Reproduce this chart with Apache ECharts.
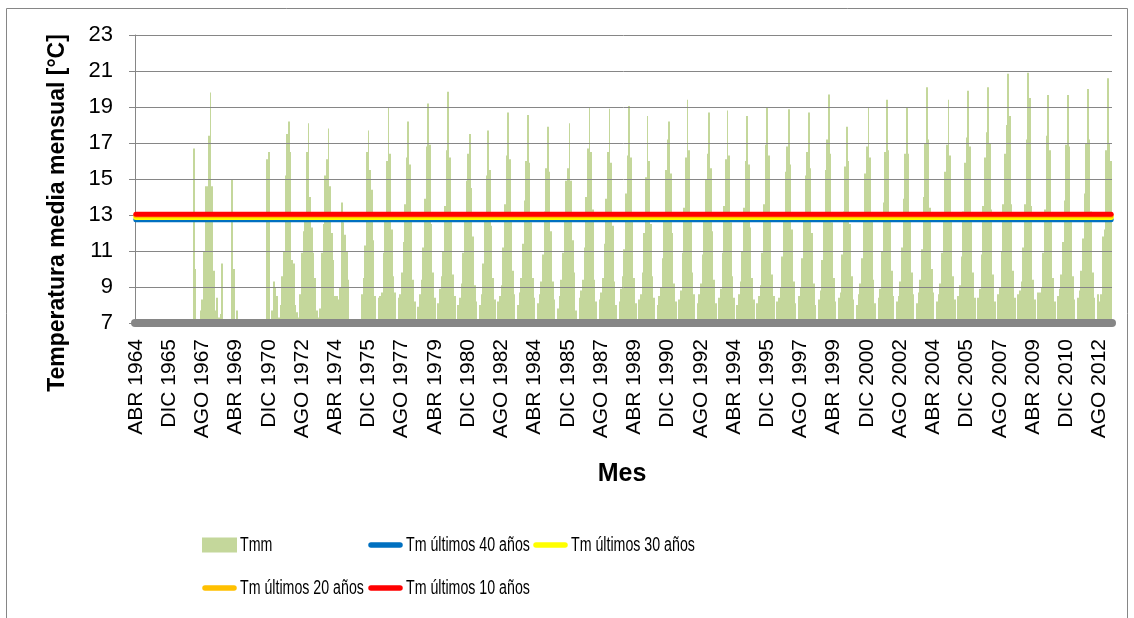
<!DOCTYPE html>
<html>
<head>
<meta charset="utf-8">
<script src="https://cdn.jsdelivr.net/npm/echarts/dist/echarts.min.js"></script>
<style>
  html, body { margin: 0; padding: 0; background: #ffffff; }
  #chart { width: 1134px; height: 618px; }
</style>
</head>
<body>
<div id="chart"></div>
<script>
// ---------- DATA ----------
const MONTHS = ['ENE','FEB','MAR','ABR','MAY','JUN','JUL','AGO','SEP','OCT','NOV','DIC'];
const START_YEAR = 1964;
const START_MONTH = 3; // ABR

// Monthly mean temperature (°C), one array per calendar year (1964 starts in ABR, 2013 ends in MAR)
const y1964 = [null,null,null,null,null,null,null,null,null];
const y1965 = [null,null,null,null,null,null,null,null,null,null,null,null];
const y1966 = [null,null,null,null,null,null,null,null,null,null,null,null];
const y1967 = [null,null,16.7,10.0,null,null,7.7,8.3,11.0,14.6,14.6,17.4];
const y1968 = [19.8,14.6,9.9,7.7,8.4,7.3,7.5,10.3,null,null,null,null];
const y1969 = [null,15.0,10.0,null,7.7,null,null,null,null,null,null,null];
const y1970 = [null,null,null,null,null,null,null,null,null,null,16.1,16.5];
const y1971 = [null,7.7,9.3,9.0,8.5,7.3,8.0,9.6,11.0,15.2,17.5,18.2];
const y1972 = [16.5,10.5,10.3,8.0,7.6,7.3,8.6,10.9,12.1,13.0,16.5,18.1];
const y1973 = [14.0,12.3,10.9,9.5,7.7,7.3,7.8,10.9,12.5,15.2,16.1,17.8];
const y1974 = [14.6,12.0,10.5,8.5,8.5,8.3,9.0,13.7,12.6,11.9,11.0,9.4];
const y1975 = [null,null,null,null,null,null,null,8.6,9.5,11.3,16.5,17.7];
const y1976 = [15.5,14.4,11.6,8.5,6.5,8.4,8.5,8.7,10.9,12.8,16.0,19.0];
const y1977 = [16.4,12.2,9.6,8.7,6.5,8.4,8.6,9.8,11.5,13.6,16.2,18.2];
const y1978 = [15.8,12.8,9.4,8.2,6.6,7.9,8.6,9.4,11.2,13.9,16.8,19.2];
const y1979 = [16.9,12.5,9.8,8.4,6.4,8.1,8.9,9.6,11.0,13.5,16.6,19.85];
const y1980 = [16.2,12.9,9.7,8.5,6.5,8.0,8.4,9.2,10.9,12.8,14.9,16.4];
const y1981 = [17.5,14.5,11.8,9.1,8.2,6.6,8.0,8.6,10.3,12.7,15.2,17.7];
const y1982 = [15.5,12.4,9.5,8.3,6.5,8.2,8.5,9.1,11.2,13.6,16.3,18.7];
const y1983 = [16.1,12.8,9.9,8.6,6.4,8.0,8.7,9.5,11.4,13.8,16.0,18.56];
const y1984 = [15.9,12.6,9.5,8.4,6.5,8.1,8.6,9.3,10.8,13.2,15.6,17.9];
const y1985 = [15.4,12.1,9.3,8.3,6.6,7.8,8.5,9.4,10.9,13.0,14.9,15.6];
const y1986 = [18.1,14.9,11.6,9.8,7.7,6.5,8.4,8.8,9.4,11.2,14.0,16.7];
const y1987 = [19.0,16.5,13.3,9.4,8.2,6.5,8.3,8.7,9.5,11.4,13.9,16.5];
const y1988 = [18.9,15.9,12.4,9.3,8.0,6.6,8.2,8.9,9.6,11.1,14.2,16.3];
const y1989 = [19.06,16.2,12.8,9.5,8.1,6.4,8.3,8.6,9.8,12.0,15.1,18.5];
const y1990 = [16.0,12.5,9.6,8.4,6.5,8.0,8.5,9.0,10.6,13.0,15.5,17.2];
const y1991 = [18.2,15.3,12.0,9.2,8.2,6.5,8.3,8.8,10.9,13.4,16.2,19.4];
const y1992 = [16.6,12.9,9.8,8.6,6.5,8.1,8.6,9.2,10.8,12.9,15.0,16.4];
const y1993 = [18.7,15.6,12.1,9.4,8.1,6.6,8.4,8.9,10.9,13.5,16.1,18.8];
const y1994 = [16.3,12.6,9.6,8.4,6.5,8.0,8.6,9.3,11.0,13.4,16.0,18.5];
const y1995 = [15.8,12.3,9.5,8.3,6.4,8.1,8.5,9.1,10.9,13.6,16.9,18.98];
const y1996 = [16.3,12.7,9.7,8.5,6.6,8.2,8.4,9.0,10.7,13.0,15.4,16.8];
const y1997 = [18.87,15.8,12.2,9.3,8.1,6.5,8.5,9.0,10.6,12.8,15.2,16.5];
const y1998 = [18.7,15.6,12.0,9.2,8.0,6.5,8.3,8.8,10.5,13.1,15.5,17.2];
const y1999 = [19.7,16.4,12.6,9.5,8.2,6.6,8.4,8.7,10.8,13.2,15.7,17.9];
const y2000 = [16.0,12.5,9.6,8.3,6.5,8.0,8.6,9.2,10.6,12.9,15.3,16.8];
const y2001 = [19.0,16.2,12.7,9.4,8.1,6.5,8.4,8.9,11.0,13.7,16.5,19.4];
const y2002 = [16.6,13.0,9.9,8.5,6.6,8.2,8.5,9.3,11.2,13.9,16.4,19.0];
const y2003 = [16.4,12.8,9.8,8.6,6.5,8.1,8.7,9.4,11.1,14.0,17.0,20.1];
const y2004 = [17.2,13.4,10.0,8.7,6.5,8.2,8.6,9.2,10.9,13.0,15.4,16.9];
const y2005 = [19.4,16.3,12.8,9.6,8.3,6.6,8.5,9.1,10.7,13.2,15.9,17.3];
const y2006 = [19.9,16.8,13.1,9.8,8.4,6.5,8.4,8.9,10.8,13.5,16.2,17.6];
const y2007 = [20.1,17.0,13.3,9.7,8.2,6.4,8.6,9.0,11.0,13.6,16.4,18.0];
const y2008 = [20.85,18.5,13.6,9.9,8.4,6.5,8.6,8.8,9.3,11.2,13.6,17.2];
const y2009 = [20.9,19.5,13.5,9.4,8.3,6.5,8.7,8.7,9.0,10.9,13.3,17.4];
const y2010 = [19.67,16.6,12.9,9.5,8.2,6.6,8.5,8.9,9.7,11.5,13.8,16.9];
const y2011 = [19.67,16.8,13.0,9.6,8.3,6.5,8.4,8.8,9.9,11.7,14.2,17.0];
const y2012 = [20.0,17.2,13.2,9.8,8.4,6.6,8.6,8.2,8.6,11.8,12.2,16.6];
const y2013 = [20.6,17.0,16.0];

// Reference means (°C)
const tm40 = 12.73;
const tm30 = 12.86;
const tm20 = 12.96;
const tm10 = 13.04;

// Axis settings
const Y_MIN = 7, Y_MAX = 23, Y_STEP = 2;
const LABEL_EVERY = 20;

// ---------- BUILD ----------
const yearArrays = [y1964,y1965,y1966,y1967,y1968,y1969,y1970,y1971,y1972,y1973,y1974,y1975,
  y1976,y1977,y1978,y1979,y1980,y1981,y1982,y1983,y1984,y1985,y1986,y1987,y1988,y1989,
  y1990,y1991,y1992,y1993,y1994,y1995,y1996,y1997,y1998,y1999,y2000,y2001,y2002,y2003,
  y2004,y2005,y2006,y2007,y2008,y2009,y2010,y2011,y2012,y2013];
const tmm = [].concat(...yearArrays);
const N = tmm.length;
const categories = tmm.map((_, i) => {
  const k = START_MONTH + i;
  return MONTHS[k % 12] + ' ' + (START_YEAR + Math.floor(k / 12));
});

const GREEN = '#c4d79b';
const GRID = '#868686';
const FONT = "'Liberation Sans', Arial, sans-serif";
const COLORS = { tm40: '#0070c0', tm30: '#ffff00', tm20: '#ffc000', tm10: '#ff0000' };

const NAMES = {
  tmm: 'Tmm',
  tm40: 'Tm últimos 40 años',
  tm30: 'Tm últimos 30 años',
  tm20: 'Tm últimos 20 años',
  tm10: 'Tm últimos 10 años'
};

function meanLine(name, value, color) {
  return {
    name: name, type: 'line', z: 6,
    data: [[0, value], [N - 1, value]],
    symbol: 'none', showSymbol: false,
    lineStyle: { color: color, width: 5, cap: 'round' },
    itemStyle: { color: color },
    silent: true
  };
}

// Column renderer: pixel-snapped columns from the axis floor (Y_MIN) up to the value
function renderColumn(params, api) {
  const v = api.value(1);
  if (v == null || isNaN(v) || v <= Y_MIN) return null;
  const idx = api.value(0);
  const top = api.coord([idx, v]);
  const base = api.coord([idx, Y_MIN]);
  const w = api.size([1, 0])[0];
  const x0 = Math.round(top[0] - w / 2);
  const x1 = Math.round(top[0] + w / 2);
  return {
    type: 'rect',
    shape: { x: x0, y: top[1], width: Math.max(1, x1 - x0), height: base[1] - top[1] },
    style: { fill: GREEN }
  };
}

// Legend drawn as graphic items (Calibri-like condensed text)
function legendItem(name, color, kind, x, y) {
  const icon = kind === 'rect'
    ? { type: 'rect', shape: { x: 0, y: -7.5, width: 35, height: 15 }, style: { fill: color } }
    : { type: 'line', shape: { x1: 3, y1: 0, x2: 32, y2: 0 }, style: { stroke: color, lineWidth: 5.5, lineCap: 'round' } };
  return {
    type: 'group', x: x, y: y, silent: true,
    children: [
      icon,
      { type: 'text', x: 38, y: 0, scaleX: 0.71,
        style: { text: name, font: "20px 'Liberation Sans', Arial, sans-serif", fill: '#000',
                 align: 'left', verticalAlign: 'middle', textAlign: 'left', textVerticalAlign: 'middle' } }
    ]
  };
}

const chart = echarts.init(document.getElementById('chart'), null, { renderer: 'canvas' });
chart.setOption({
  animation: false,
  backgroundColor: '#ffffff',
  grid: { left: 135, right: 22, top: 35, bottom: 295, containLabel: false },
  xAxis: {
    type: 'category', data: categories, boundaryGap: true, z: 4,
    axisLine: { show: true, lineStyle: { color: GRID, width: 8 } },
    axisTick: { show: false },
    axisLabel: { interval: LABEL_EVERY - 1, rotate: 90, fontFamily: FONT, fontSize: 21, color: '#000', margin: 16 },
    splitLine: { show: false }
  },
  yAxis: {
    type: 'value', min: Y_MIN, max: Y_MAX, interval: Y_STEP, z: 3,
    axisLine: { show: true, lineStyle: { color: GRID, width: 1 } },
    axisTick: { show: true, length: 6, lineStyle: { color: GRID } },
    axisLabel: { fontFamily: FONT, fontSize: 22, color: '#000', margin: 22 },
    splitLine: { show: true, lineStyle: { color: GRID, width: 1 } }
  },
  legend: { show: false, data: [NAMES.tmm, NAMES.tm40, NAMES.tm30, NAMES.tm20, NAMES.tm10] },
  series: [
    { name: NAMES.tmm, type: 'custom', z: 2, silent: true,
      data: tmm.map((v, i) => [i, v]),
      encode: { x: 0, y: 1 },
      itemStyle: { color: GREEN },
      renderItem: renderColumn },
    meanLine(NAMES.tm40, tm40, COLORS.tm40),
    meanLine(NAMES.tm30, tm30, COLORS.tm30),
    meanLine(NAMES.tm20, tm20, COLORS.tm20),
    meanLine(NAMES.tm10, tm10, COLORS.tm10)
  ],
  graphic: [
    { type: 'rect', silent: true, z: -1,
      shape: { x: 6.5, y: 8.5, width: 1121, height: 700 },
      style: { fill: 'none', stroke: GRID, lineWidth: 1 } },
    { type: 'text', silent: true, x: 58, y: 213, rotation: Math.PI / 2,
      style: { text: 'Temperatura media mensual [°C]', font: "bold 23px 'Liberation Sans', Arial, sans-serif",
               fill: '#000', align: 'center', verticalAlign: 'middle', textAlign: 'center', textVerticalAlign: 'middle' } },
    { type: 'text', silent: true, x: 622, y: 474,
      style: { text: 'Mes', font: "bold 25px 'Liberation Sans', Arial, sans-serif",
               fill: '#000', align: 'center', verticalAlign: 'middle', textAlign: 'center', textVerticalAlign: 'middle' } },
    legendItem(NAMES.tmm, GREEN, 'rect', 202, 545),
    legendItem(NAMES.tm40, COLORS.tm40, 'line', 368, 545),
    legendItem(NAMES.tm30, COLORS.tm30, 'line', 533, 545),
    legendItem(NAMES.tm20, COLORS.tm20, 'line', 202, 588),
    legendItem(NAMES.tm10, COLORS.tm10, 'line', 368, 588)
  ]
});
</script>
</body>
</html>
